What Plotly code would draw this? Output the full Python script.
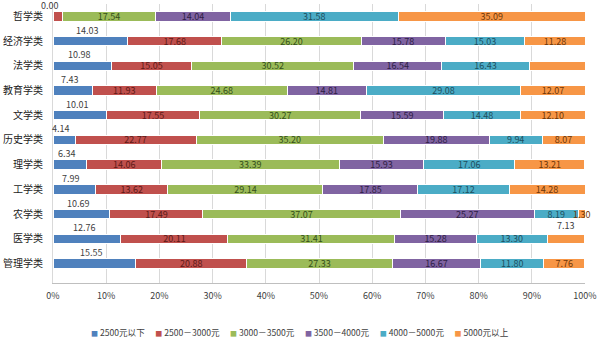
import plotly.graph_objects as go

categories = ["哲学类", "经济学类", "法学类", "教育学类", "文学类", "历史学类",
              "理学类", "工学类", "农学类", "医学类", "管理学类"]
series_names = ["2500元以下", "2500－3000元", "3000－3500元", "3500－4000元",
                "4000－5000元", "5000元以上"]
s_lt2500 = [0.00, 14.03, 10.98, 7.43, 10.01, 4.14, 6.34, 7.99, 10.69, 12.76, 15.55]
s_2500_3000 = [1.75, 17.68, 15.05, 11.93, 17.55, 22.77, 14.06, 13.62, 17.49, 20.11, 20.88]
s_3000_3500 = [17.54, 26.20, 30.52, 24.68, 30.27, 35.20, 33.39, 29.14, 37.07, 31.41, 27.33]
s_3500_4000 = [14.04, 15.78, 16.54, 14.81, 15.59, 19.88, 15.93, 17.85, 25.27, 15.28, 16.67]
s_4000_5000 = [31.58, 15.03, 16.43, 29.08, 14.48, 9.94, 17.06, 17.12, 8.19, 13.30, 11.80]
s_gt5000 = [35.09, 11.28, 10.48, 12.07, 12.10, 8.07, 13.21, 14.28, 1.30, 7.13, 7.76]
tick_vals = [0, 10, 20, 30, 40, 50, 60, 70, 80, 90, 100]
tick_text = [f"{v}%" for v in tick_vals]

series = [s_lt2500, s_2500_3000, s_3000_3500, s_3500_4000, s_4000_5000, s_gt5000]
colors = ["#4F81BD", "#C0504D", "#9BBB59", "#8064A2", "#4BACC6", "#F79646"]
text_colors = ["#1f3550", "#5e1a17", "#34501a", "#2e2045", "#1d4f5e", "#6e3608"]
FONT = "Noto Sans CJK SC"

fig = go.Figure()
for i, (name, vals) in enumerate(zip(series_names, series)):
    texts = []
    for j, v in enumerate(vals):
        cat = categories[j]
        if i == 0:
            texts.append("")          # blue labels drawn above the bars
        elif i == 1 and cat == "哲学类":
            texts.append("")
        elif i == 5 and cat in ("医学类", "农学类"):
            texts.append("")          # drawn as annotations
        else:
            texts.append(f"{v:.2f}")
    fig.add_trace(go.Bar(
        y=categories, x=vals, name=name, orientation="h",
        marker=dict(color=colors[i], line=dict(color="white", width=1)),
        text=texts, textposition="inside", insidetextanchor="middle",
        textfont=dict(size=9, color=text_colors[i], family=FONT),
        cliponaxis=False, showlegend=False,
    ))

# blue labels placed above bars
for j, cat in enumerate(categories):
    v = s_lt2500[j]
    fig.add_annotation(x=v / 2, y=cat, text=f"{v:.2f}", showarrow=False,
                       yshift=11, xshift=-3, xanchor="center",
                       font=dict(size=9, color="#404040", family=FONT))

# 医学类 orange label above the bar
j = categories.index("医学类")
start = 100 - s_gt5000[j]
fig.add_annotation(x=start + s_gt5000[j] / 2, y=categories[j], text=f"{s_gt5000[j]:.2f}",
                   showarrow=False, yshift=13, xanchor="center",
                   font=dict(size=9, color="#404040", family=FONT))
# 农学类 orange label overflowing its tiny segment
j = categories.index("农学类")
start = 100 - s_gt5000[j]
fig.add_annotation(x=start + s_gt5000[j] / 2, y=categories[j], text=f"{s_gt5000[j]:.2f}",
                   showarrow=False, xanchor="center",
                   font=dict(size=9, color=text_colors[5], family=FONT))

# legend (small square markers, single row) built from the series lists
legend_parts = [f'<span style="color:{c};font-size:7px">■</span>\u00a0{n}'
                for n, c in zip(series_names, colors)]
fig.add_annotation(x=0.465, y=-0.175, xref="paper", yref="paper",
                   xanchor="center", yanchor="middle", showarrow=False,
                   text="\u3000\u00a0".join(legend_parts),
                   font=dict(size=8.6, color="#404040", family=FONT))

fig.update_layout(
    barmode="stack", bargap=0.62,
    width=600, height=339,
    margin=dict(l=53, r=15, t=4, b=56),
    paper_bgcolor="white", plot_bgcolor="white",
    font=dict(family=FONT, size=10, color="#333333"),
    uniformtext=dict(minsize=9, mode="show"),
    showlegend=False,
    xaxis=dict(range=[0, 100], tickvals=tick_vals, ticktext=tick_text,
               showgrid=True, gridcolor="#d9d9d9", gridwidth=1,
               showline=True, linecolor="#bfbfbf", zeroline=False,
               tickfont=dict(size=9, color="#404040"), ticks="",
               ticklabelstandoff=4, automargin=False),
    yaxis=dict(autorange="reversed", showgrid=False, showline=True, linecolor="#d9d9d9",
               ticks="", tickfont=dict(size=10, color="#222222"),
               ticklabelstandoff=7, automargin=False),
)

fig.write_html("out.html")
